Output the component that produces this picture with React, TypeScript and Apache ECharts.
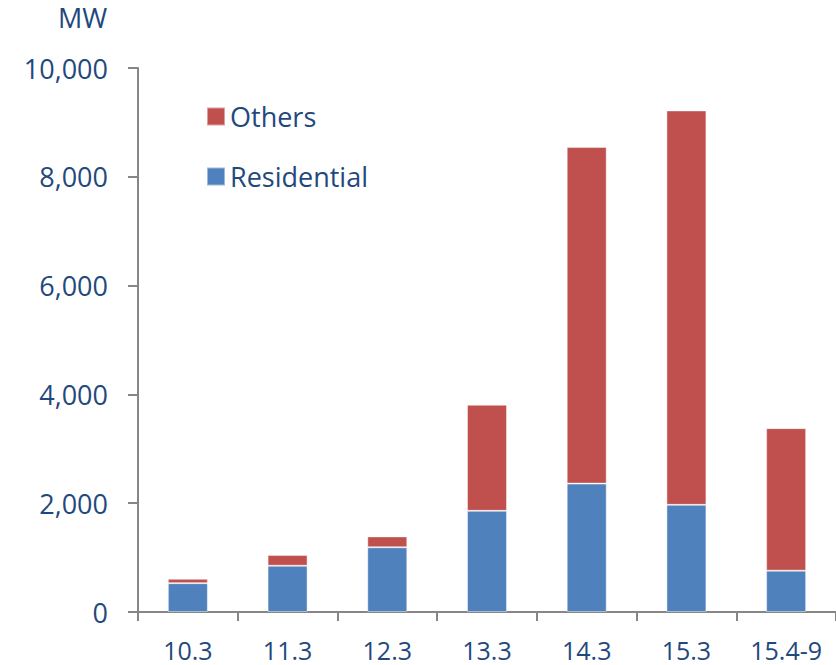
import React, { useEffect, useRef } from "react";
import * as echarts from "echarts";

const categories = ["10.3", "11.3", "12.3", "13.3", "14.3", "15.3", "15.4-9"];
const residential = [530, 850, 1190, 1860, 2360, 1970, 760];
const totals = [610, 1050, 1390, 3810, 8550, 9220, 3380];
const others = totals.map((t, i) => t - residential[i]);
const yTicks = [0, 2000, 4000, 6000, 8000, 10000];

const FONT = "'Open Sans', 'Noto Sans', sans-serif";
const TEXT = "#1F497D";
const AXIS = "#868686";

export default function App() {
  const ref = useRef<HTMLDivElement>(null);
  useEffect(() => {
    if (!ref.current) return;
    const chart = echarts.init(ref.current, undefined, { renderer: "svg" });
    chart.setOption({
      animation: false,
      backgroundColor: "#ffffff",
      textStyle: { fontFamily: FONT },
      grid: { left: 138, top: 68, width: 699, bottom: 53, containLabel: false },
      legend: {
        orient: "vertical",
        left: 201,
        top: 98,
        itemWidth: 18,
        itemHeight: 18,
        itemGap: 33,
        icon: "rect",
        data: ["Others", "Residential"],
        textStyle: { color: TEXT, fontSize: 27, fontFamily: FONT },
      },
      graphic: [
        {
          type: "text",
          left: 58,
          top: 4,
          style: { text: "MW", fill: TEXT, fontSize: 27, fontFamily: FONT },
        },
      ],
      xAxis: {
        type: "category",
        data: categories,
        axisLine: { lineStyle: { color: AXIS, width: 2 } },
        axisTick: { show: true, length: 9, lineStyle: { color: AXIS, width: 2 } },
        axisLabel: { color: TEXT, fontSize: 25, fontFamily: FONT, margin: 25 },
      },
      yAxis: {
        type: "value",
        min: yTicks[0],
        max: yTicks[yTicks.length - 1],
        interval: 2000,
        splitLine: { show: false },
        axisLine: { show: true, lineStyle: { color: AXIS, width: 2 } },
        axisTick: { show: true, length: 10, lineStyle: { color: AXIS, width: 2 } },
        axisLabel: {
          color: TEXT,
          fontSize: 27,
          fontFamily: FONT,
          margin: 30,
          formatter: (v: number) => v.toLocaleString("en-US"),
        },
      },
      series: [
        {
          name: "Residential",
          type: "bar",
          stack: "total",
          barWidth: 40,
          data: residential,
          itemStyle: { color: "#4F81BD", borderColor: "rgba(255,255,255,0.45)", borderWidth: 1 },
        },
        {
          name: "Others",
          type: "bar",
          stack: "total",
          barWidth: 40,
          data: others,
          itemStyle: { color: "#C0504D", borderColor: "rgba(255,255,255,0.45)", borderWidth: 1 },
        },
      ],
    });
    return () => chart.dispose();
  }, []);
  return <div ref={ref} style={{ width: 836, height: 665, position: "absolute", left: 0, top: 0 }} />;
}
